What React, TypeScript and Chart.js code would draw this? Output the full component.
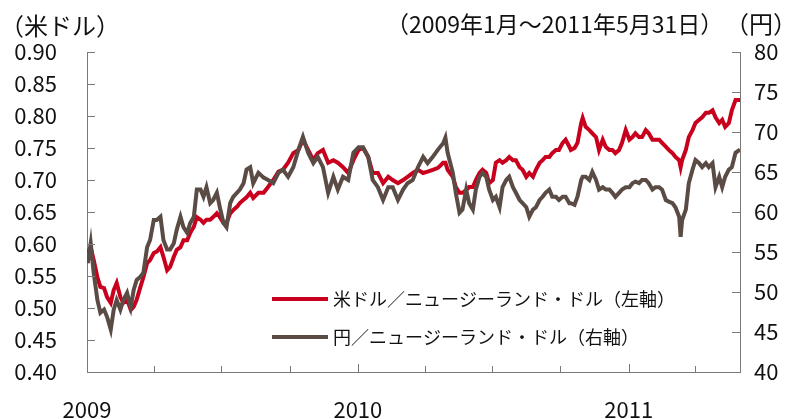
import React, { useEffect, useRef } from 'react';
import { Chart, registerables } from 'chart.js';
Chart.register(...registerables);

const dates = [
  '2009-01-02','2009-01-06','2009-01-10','2009-01-15','2009-01-19','2009-01-24','2009-01-28','2009-02-02','2009-02-06','2009-02-10',
  '2009-02-15','2009-02-19','2009-02-24','2009-03-01','2009-03-05','2009-03-09','2009-03-14','2009-03-18','2009-03-23','2009-03-27',
  '2009-04-01','2009-04-05','2009-04-10','2009-04-14','2009-04-19','2009-04-23','2009-04-28','2009-05-02','2009-05-07','2009-05-11',
  '2009-05-16','2009-05-20','2009-05-25','2009-05-29','2009-06-03','2009-06-07','2009-06-11','2009-06-16','2009-06-20','2009-06-25',
  '2009-06-29','2009-07-04','2009-07-08','2009-07-13','2009-07-17','2009-07-22','2009-07-26','2009-07-31','2009-08-04','2009-08-09',
  '2009-08-13','2009-08-20','2009-08-27','2009-09-02','2009-09-09','2009-09-16','2009-09-22','2009-09-29','2009-10-06','2009-10-13',
  '2009-10-19','2009-10-26','2009-11-02','2009-11-08','2009-11-15','2009-11-22','2009-11-29','2009-12-05','2009-12-12','2009-12-19',
  '2009-12-26','2010-01-02','2010-01-08','2010-01-15','2010-01-21','2010-01-28','2010-02-04','2010-02-11','2010-02-17','2010-02-24',
  '2010-03-03','2010-03-09','2010-03-16','2010-03-23','2010-03-30','2010-04-05','2010-04-12','2010-04-19','2010-04-26','2010-04-29',
  '2010-05-02','2010-05-09','2010-05-13','2010-05-18','2010-05-22','2010-05-27','2010-05-31','2010-06-05','2010-06-09','2010-06-14',
  '2010-06-18','2010-06-23','2010-06-27','2010-07-02','2010-07-06','2010-07-11','2010-07-15','2010-07-20','2010-07-24','2010-07-29',
  '2010-08-02','2010-08-07','2010-08-11','2010-08-16','2010-08-20','2010-08-25','2010-08-29','2010-09-03','2010-09-07','2010-09-11',
  '2010-09-16','2010-09-20','2010-09-25','2010-09-29','2010-10-04','2010-10-08','2010-10-13','2010-10-15','2010-10-20','2010-10-24',
  '2010-10-29','2010-10-31','2010-11-04','2010-11-09','2010-11-13','2010-11-18','2010-11-22','2010-11-27','2010-12-01','2010-12-06',
  '2010-12-10','2010-12-14','2010-12-19','2010-12-23','2010-12-28','2011-01-02','2011-01-06','2011-01-10','2011-01-15','2011-01-19',
  '2011-01-24','2011-01-28','2011-02-02','2011-02-06','2011-02-11','2011-02-15','2011-02-20','2011-02-24','2011-03-01','2011-03-05',
  '2011-03-10','2011-03-12','2011-03-14','2011-03-19','2011-03-23','2011-03-28','2011-04-01','2011-04-06','2011-04-10','2011-04-15',
  '2011-04-19','2011-04-24','2011-04-28','2011-05-03','2011-05-07','2011-05-11','2011-05-16','2011-05-20','2011-05-25','2011-05-31',
];

const usdPerNzd = [
  0.586,0.595,0.575,0.548,0.533,0.531,0.517,0.508,0.528,0.539,
  0.517,0.508,0.513,0.497,0.502,0.513,0.533,0.548,0.570,0.575,
  0.586,0.588,0.595,0.580,0.559,0.564,0.580,0.591,0.595,0.606,
  0.606,0.617,0.627,0.642,0.638,0.633,0.638,0.638,0.642,0.648,
  0.642,0.633,0.633,0.648,0.653,0.658,0.664,0.669,0.673,0.680,
  0.672,0.680,0.680,0.689,0.700,0.713,0.716,0.727,0.742,0.747,
  0.763,0.747,0.731,0.742,0.747,0.727,0.731,0.727,0.720,0.711,
  0.731,0.747,0.750,0.736,0.711,0.711,0.695,0.705,0.700,0.695,
  0.700,0.705,0.711,0.716,0.711,0.713,0.716,0.719,0.727,0.727,
  0.716,0.705,0.689,0.680,0.680,0.684,0.689,0.689,0.700,0.711,
  0.716,0.711,0.695,0.700,0.727,0.731,0.727,0.731,0.736,0.731,
  0.731,0.720,0.716,0.705,0.711,0.705,0.716,0.727,0.731,0.736,
  0.736,0.742,0.747,0.747,0.758,0.763,0.752,0.747,0.750,0.758,
  0.789,0.797,0.783,0.778,0.773,0.767,0.747,0.763,0.752,0.747,
  0.747,0.742,0.747,0.758,0.778,0.763,0.767,0.773,0.767,0.767,
  0.778,0.773,0.763,0.763,0.763,0.758,0.752,0.747,0.742,0.736,
  0.731,0.720,0.731,0.747,0.767,0.778,0.789,0.794,0.798,0.805,
  0.805,0.809,0.798,0.789,0.794,0.783,0.789,0.809,0.825,0.825,
];

const jpyPerNzd = [
  53.6,56.1,52.4,49.0,47.4,47.8,46.9,45.3,47.8,49.0,
  47.8,49.0,49.9,48.1,50.3,51.5,51.9,52.4,55.6,56.5,
  59.0,59.0,59.4,56.5,55.3,55.3,56.1,57.8,59.4,58.1,
  57.4,58.6,59.4,62.8,62.8,61.9,63.1,61.1,61.5,62.4,
  60.6,58.6,58.1,61.1,61.9,62.4,62.8,63.6,65.3,65.6,
  63.6,64.9,64.3,64.0,63.6,64.9,65.3,64.4,65.6,67.8,
  69.4,67.4,66.1,66.9,65.6,62.4,64.4,62.8,64.4,64.0,
  67.4,68.1,68.1,66.9,64.0,63.1,61.5,63.1,63.1,61.5,
  62.8,63.6,64.0,65.6,66.9,66.1,66.9,67.8,68.6,69.3,
  67.4,64.9,62.4,59.9,60.3,62.8,61.1,60.3,62.8,64.4,
  64.9,64.4,62.8,61.5,61.9,60.6,63.1,64.0,64.4,63.1,
  62.4,61.5,61.1,60.6,59.4,60.3,60.6,61.5,61.9,62.4,
  62.8,61.9,61.9,61.5,61.9,61.9,61.1,61.1,60.9,61.9,
  64.0,64.4,64.4,64.0,65.0,64.0,62.8,63.1,62.8,62.8,
  62.4,61.9,62.4,62.8,63.1,63.1,63.6,63.8,63.6,64.0,
  64.0,63.6,62.8,63.1,63.1,62.8,61.5,61.3,61.1,60.6,
  59.4,56.9,59.0,60.3,63.6,65.3,66.5,66.1,65.6,66.1,
  65.6,66.1,63.1,64.4,63.1,64.4,65.3,65.6,67.4,67.8,
];

const leftTicks = [0.4, 0.45, 0.5, 0.55, 0.6, 0.65, 0.7, 0.75, 0.8, 0.85, 0.9];
const rightTicks = [40, 45, 50, 55, 60, 65, 70, 75, 80];
const yearTicks = ['2009-01-01', '2010-01-01', '2011-01-01'];
const yearLabels = ['2009', '2010', '2011'];
const quarterTicks = ['2009-04-01', '2009-07-01', '2009-10-01', '2010-04-01', '2010-07-01', '2010-10-01', '2011-04-01'];
const rangeStart = '2009-01-01';
const rangeEnd = '2011-05-31';
const seriesLabels = ['米ドル／ニュージーランド・ドル（左軸）', '円／ニュージーランド・ドル（右軸）'];
const leftUnit = '（米ドル）';
const rightUnit = '（円）';
const periodText = '（2009年1月～2011年5月31日）';

const FONT = "'Noto Sans CJK JP', 'Noto Sans', sans-serif";
const RED = '#C8001E';
const BROWN = '#5A4B45';
const AXIS = '#7a7a7a';
const TEXT = '#111111';

const ts = (s: string) => Date.parse(s + 'T00:00:00Z');

export default function App() {
  const ref = useRef<HTMLCanvasElement>(null);
  useEffect(() => {
    const decor = {
      id: 'decor',
      afterDraw(chart: any) {
        const { ctx, chartArea: ca, scales } = chart;
        ctx.save();
        ctx.strokeStyle = AXIS;
        ctx.lineWidth = 1;
        ctx.beginPath();
        leftTicks.forEach((v) => {
          const y = Math.round(scales.y.getPixelForValue(v)) + 0.5;
          ctx.moveTo(ca.left, y);
          ctx.lineTo(ca.left + 8, y);
        });
        rightTicks.forEach((v) => {
          const y = Math.round(scales.y1.getPixelForValue(v)) + 0.5;
          ctx.moveTo(ca.right - 8, y);
          ctx.lineTo(ca.right, y);
        });
        quarterTicks.forEach((d) => {
          const x = Math.round(scales.x.getPixelForValue(ts(d))) + 0.5;
          ctx.moveTo(x, ca.bottom);
          ctx.lineTo(x, ca.bottom - 6);
        });
        yearTicks.forEach((d) => {
          const x = Math.round(scales.x.getPixelForValue(ts(d))) + 0.5;
          ctx.moveTo(x, ca.bottom);
          ctx.lineTo(x, ca.bottom - 8);
        });
        ctx.stroke();

        ctx.fillStyle = TEXT;
        ctx.textBaseline = 'middle';
        ctx.textAlign = 'left';
        ctx.font = `24px ${FONT}`;
        ctx.fillText(leftUnit, 0, 26);
        ctx.fillText(rightUnit, 725, 24);
        ctx.font = `23px ${FONT}`;
        ctx.fillText(periodText, 386, 24);

        const ds = chart.data.datasets;
        const rows = [299, 337];
        ctx.font = `18px ${FONT}`;
        rows.forEach((y: number, i: number) => {
          ctx.strokeStyle = ds[i].borderColor;
          ctx.lineWidth = 4;
          ctx.beginPath();
          ctx.moveTo(272, y);
          ctx.lineTo(328, y);
          ctx.stroke();
          ctx.fillStyle = TEXT;
          ctx.fillText(ds[i].label, 333, y);
        });
        ctx.restore();
      },
    };

    const tickFont = { family: FONT, size: 22 };
    const chart = new Chart(ref.current as HTMLCanvasElement, {
      type: 'line',
      data: {
        datasets: [
          {
            label: seriesLabels[0],
            data: dates.map((d, i) => ({ x: ts(d), y: usdPerNzd[i] })),
            yAxisID: 'y',
            borderColor: RED,
            backgroundColor: RED,
            borderWidth: 4,
            pointRadius: 0,
            tension: 0,
            order: 2,
          },
          {
            label: seriesLabels[1],
            data: dates.map((d, i) => ({ x: ts(d), y: jpyPerNzd[i] })),
            yAxisID: 'y1',
            borderColor: BROWN,
            backgroundColor: BROWN,
            borderWidth: 4,
            pointRadius: 0,
            tension: 0,
            order: 1,
          },
        ],
      },
      options: {
        animation: false,
        responsive: false,
        layout: { padding: { top: 52, left: 0, right: 0, bottom: 0 } },
        plugins: { legend: { display: false }, tooltip: { enabled: false } },
        scales: {
          x: {
            type: 'linear',
            min: ts(rangeStart),
            max: ts(rangeEnd),
            grid: { display: false, drawTicks: false },
            border: { display: true, color: AXIS, width: 1 },
            afterBuildTicks: (s: any) => {
              s.ticks = yearTicks.map((d) => ({ value: ts(d) }));
            },
            afterFit: (s: any) => {
              s.height = 47;
            },
            ticks: {
              autoSkip: false,
              maxRotation: 0,
              padding: 24,
              font: tickFont,
              color: TEXT,
              callback: (_v: any, i: number) => yearLabels[i],
            },
          },
          y: {
            position: 'left',
            min: 0.4,
            max: 0.9,
            grid: { display: false, drawTicks: false },
            border: { display: true, color: AXIS, width: 1 },
            afterBuildTicks: (s: any) => {
              s.ticks = leftTicks.map((v) => ({ value: v }));
            },
            afterFit: (s: any) => {
              s.width = 87;
            },
            ticks: {
              padding: 30,
              font: tickFont,
              color: TEXT,
              callback: (v: any) => Number(v).toFixed(2),
            },
          },
          y1: {
            position: 'right',
            min: 40,
            max: 80,
            grid: { display: false, drawTicks: false },
            border: { display: true, color: AXIS, width: 1 },
            afterBuildTicks: (s: any) => {
              s.ticks = rightTicks.map((v) => ({ value: v }));
            },
            afterFit: (s: any) => {
              s.width = 57;
            },
            ticks: {
              padding: 14,
              font: tickFont,
              color: TEXT,
              callback: (v: any) => String(v),
            },
          },
        },
      } as any,
      plugins: [decor],
    });
    return () => chart.destroy();
  }, []);

  return (
    <div style={{ position: 'absolute', left: 0, top: 0, width: 797, height: 419, background: '#fff' }}>
      <canvas ref={ref} width={797} height={419} style={{ display: 'block' }} />
    </div>
  );
}
